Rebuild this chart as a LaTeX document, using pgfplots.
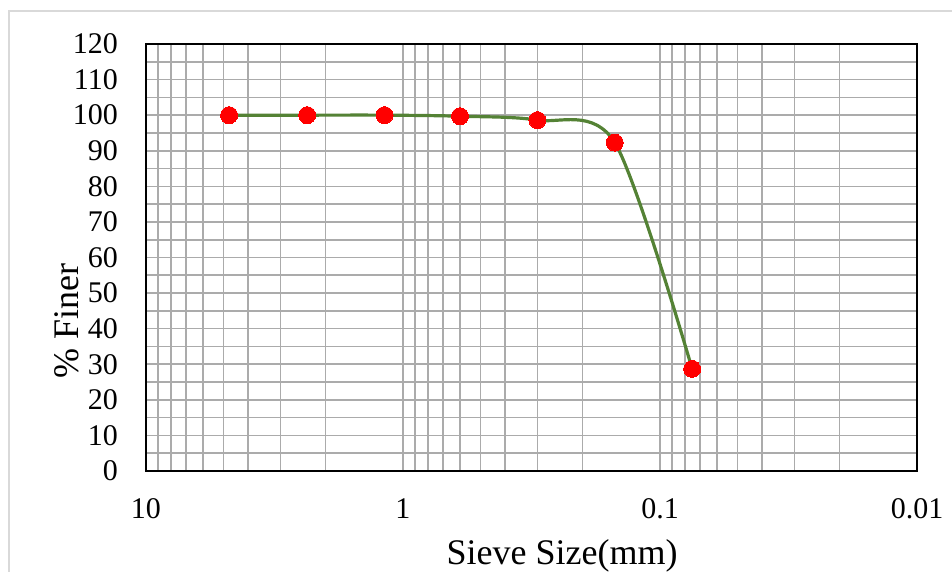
\documentclass[border=0pt]{standalone}
\usepackage{fontspec}
\setmainfont{Liberation Serif}
\usepackage{pgfplots}
\pgfplotsset{compat=1.18}
\definecolor{gridc}{HTML}{ABABAB}
\definecolor{linec}{HTML}{548235}
\definecolor{framec}{HTML}{D9D9D9}
\begin{document}
\begin{tikzpicture}
\draw[framec, line width=2pt] (8.5pt,-10pt) -- (8.5pt,561pt) -- (970pt,561pt);
\begin{axis}[
  at={(146pt,101pt)}, anchor=south west,
  scale only axis, width=771pt, height=427pt,
  xmode=log, x dir=reverse,
  xmin=0.01, xmax=10, ymin=0, ymax=120,
  xtick={10,1,0.1,0.01}, xticklabels={10,1,0.1,0.01},
  minor xtick={0.02,0.03,0.04,0.05,0.06,0.07,0.08,0.09,0.2,0.3,0.4,0.5,0.6,0.7,0.8,0.9,2,3,4,5,6,7,8,9},
  ytick distance=10, minor y tick num=1,
  xmajorgrids, xminorgrids, ymajorgrids, yminorgrids,
  grid style={gridc, line width=1.6pt},
  minor grid style={gridc, line width=1.6pt},
  major tick length=0pt, minor tick length=0pt,
  axis line style={black, line width=1.3pt},
  /pgf/number format/assume math mode=true,
  tick label style={font=\fontsize{30}{30}\selectfont, inner sep=0pt},
  xticklabel style={anchor=north, yshift=-27pt},
  yticklabel style={anchor=east, xshift=-28pt},
  clip=false,
]
\addplot[linec, line width=3.2pt, smooth, mark=*, mark size=8.5pt,
  mark options={draw=red, fill=red, line width=0pt}] coordinates {
  (4.75,100) (2.36,100) (1.18,100) (0.6,99.7) (0.3,98.6) (0.15,92.3) (0.075,28.7)
};
\end{axis}
\node[anchor=base, inner sep=0pt, font=\fontsize{36}{36}\selectfont] at (562pt,7pt) {Sieve Size(mm)};
\node[anchor=base, rotate=90, inner sep=0pt, font=\fontsize{36}{36}\selectfont] at (78pt,251pt) {\% Finer};
\pgfresetboundingbox
\useasboundingbox (0pt,0pt) rectangle (952pt,572pt);
\end{tikzpicture}
\end{document}
